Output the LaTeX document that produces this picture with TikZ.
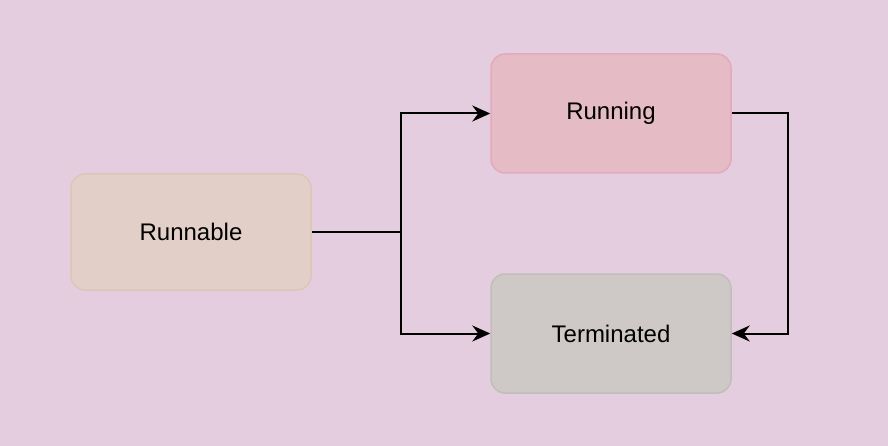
\documentclass[tikz,border=0pt]{standalone}
\usepackage{fontspec}
\setmainfont{Liberation Sans}
\usetikzlibrary{arrows.meta}
\definecolor{bgc}{RGB}{229,205,224}
\definecolor{runnablefill}{RGB}{226,208,200}
\definecolor{runnabledraw}{RGB}{222,198,182}
\definecolor{runningfill}{RGB}{229,187,198}
\definecolor{runningdraw}{RGB}{226,170,186}
\definecolor{termfill}{RGB}{206,201,198}
\definecolor{termdraw}{RGB}{192,190,184}
\tikzset{
  statebox/.style={rounded corners=14pt, minimum width=240pt, minimum height=117pt,
    line width=1.5pt, inner sep=0pt, font=\fontsize{24}{28}\selectfont, text=black},
  conn/.style={line width=2pt, draw=black, -{Stealth[length=18pt,width=16pt,inset=6pt]}},
}
\begin{document}
\begin{tikzpicture}[x=1pt,y=-1pt]
\fill[bgc] (0,0) rectangle (888,446);
\useasboundingbox (0,0) rectangle (888,446);
\node[statebox, fill=runnablefill, draw=runnabledraw, minimum height=116pt] (runnable) at (191,232) {Runnable};
\node[statebox, fill=runningfill, draw=runningdraw, minimum height=119pt] (running) at (611,113.5) {Running};
\node[statebox, fill=termfill, draw=termdraw, minimum height=119pt] (term) at (611,333.5) {Terminated};
\coordinate (split) at (401,232);
\draw[line width=2pt] (runnable.east) -- (split);
\draw[conn] (split) |- (running.west);
\draw[conn] (split) |- (term.west);
\draw[conn] (running.east) -- ++(56,0) |- (term.east);
\end{tikzpicture}
\end{document}
